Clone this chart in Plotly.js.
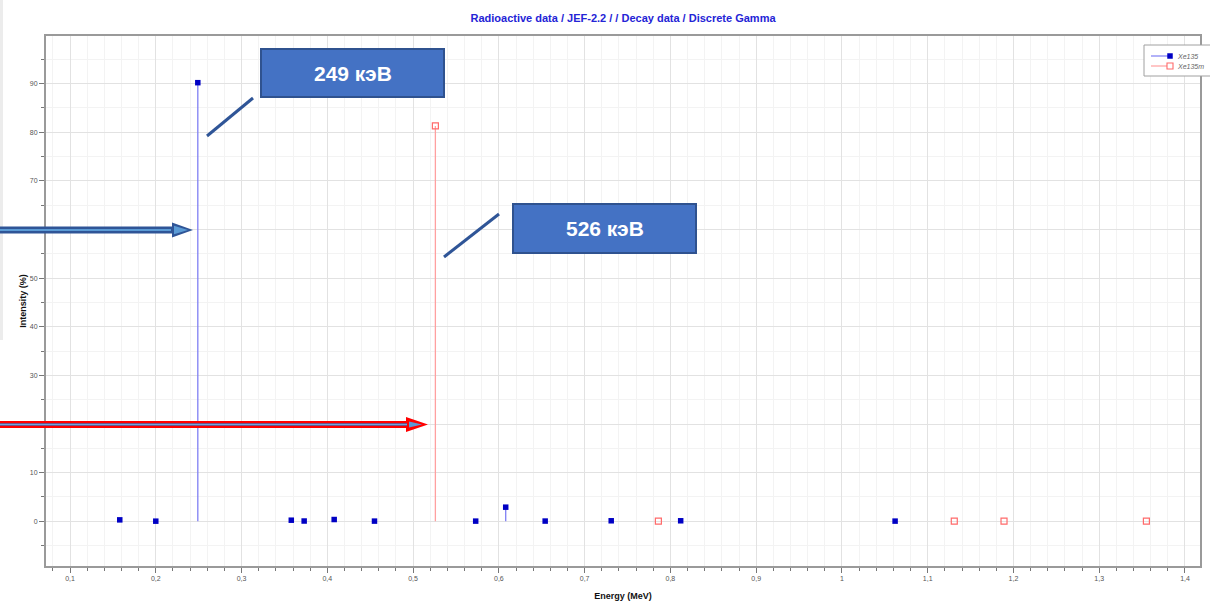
<!DOCTYPE html>
<html>
<head>
<meta charset="utf-8">
<script src="https://cdn.plot.ly/plotly-3.0.1.min.js"></script>
<style>
  html, body { margin: 0; padding: 0; background: #ffffff; }
  #chart { width: 1210px; height: 602px; }
</style>
</head>
<body>
<div id="chart"></div>
<script>
// Discrete gamma lines (energy in MeV, intensity in %)
const xe135Energy    = [0.158, 0.200, 0.249, 0.358, 0.373, 0.408, 0.455, 0.573, 0.608, 0.654, 0.731, 0.812, 1.062];
const xe135Intensity = [0.29, 0.02, 90.2, 0.22, 0.05, 0.36, 0.03, 0.03, 2.9, 0.04, 0.10, 0.10, 0.03];

const xe135mEnergy    = [0.526, 0.786, 1.131, 1.189, 1.355];
const xe135mIntensity = [81.3, 0.02, 0.02, 0.02, 0.02];

const seriesNames = ["Xe135", "Xe135m"];
const peakLabels  = ["249 кэВ", "526 кэВ"];

// Series styles
const styles = [
  { stem: "#7f7ff4", mark: "#0000c4", symbol: "square", size: 5.5 },
  { stem: "#ffa0a0", mark: "#ff6a6a", symbol: "square-open", size: 6 }
];

// Plot-area geometry in page pixels
const L = 46, T = 36, W = 1154, H = 530;
const px = x => (x - L) / W;          // page x -> paper x
const py = y => (T + H - y) / H;      // page y -> paper y
const pathOf = pts => "M" + pts.map(p => px(p[0]).toFixed(5) + "," + py(p[1]).toFixed(5)).join(" L") + " Z";

// Each line is a vertical stem from 0 up to its intensity, with a marker at the top
function stemTrace(name, energy, intensity, st) {
  const xs = [], ys = [], sizes = [];
  energy.forEach((e, i) => {
    xs.push(e, e, null);
    ys.push(0, intensity[i], null);
    sizes.push(0, st.size, 0);   // no marker at the stem base
  });
  return {
    type: "scatter", mode: "lines+markers", name: name,
    x: xs, y: ys, connectgaps: false, cliponaxis: false,
    line: { color: st.stem, width: 1.3 },
    marker: { symbol: st.symbol, color: st.mark, size: sizes, opacity: 1,
              line: { width: st.symbol === "square-open" ? 1.2 : 0 } }
  };
}

const traces = [
  stemTrace(seriesNames[0], xe135Energy, xe135Intensity, styles[0]),
  stemTrace(seriesNames[1], xe135mEnergy, xe135mIntensity, styles[1])
];

// Callout boxes, leader lines and pointer arrows
const boxFill = "#4472c4", boxEdge = "#2f528f", leader = "#2f5597";
const shapes = [
  // thin grey strip on the far left
  { type: "rect", xref: "paper", yref: "paper", x0: px(0), x1: px(3), y0: py(340), y1: py(0),
    fillcolor: "#ececec", line: { width: 0 }, layer: "below" },

  { type: "rect", xref: "paper", yref: "paper", x0: px(261), x1: px(444), y0: py(97), y1: py(49),
    fillcolor: boxFill, line: { color: boxEdge, width: 2 } },
  { type: "rect", xref: "paper", yref: "paper", x0: px(513), x1: px(696), y0: py(253), y1: py(204),
    fillcolor: boxFill, line: { color: boxEdge, width: 2 } },

  { type: "line", xref: "paper", yref: "paper", x0: px(207), y0: py(136), x1: px(253), y1: py(98),
    line: { color: leader, width: 3 } },
  { type: "line", xref: "paper", yref: "paper", x0: px(444), y0: py(257), x1: px(499), y1: py(214),
    line: { color: leader, width: 3 } },

  // blue arrow
  { type: "path", xref: "paper", yref: "paper", fillcolor: "#2f5597", line: { width: 0 },
    path: pathOf([[0, 226.5], [172, 226.5], [172, 222.5], [193, 230], [172, 237.5], [172, 233.5], [0, 233.5]]) },
  { type: "path", xref: "paper", yref: "paper", fillcolor: "#5b9bd5", line: { width: 0 },
    path: pathOf([[0, 229], [171, 229], [171, 231], [0, 231]]) },
  { type: "path", xref: "paper", yref: "paper", fillcolor: "#5b9bd5", line: { width: 0 },
    path: pathOf([[174, 225.8], [188, 230], [174, 234.2]]) },

  // red arrow
  { type: "path", xref: "paper", yref: "paper", fillcolor: "#ff0000", line: { width: 0 },
    path: pathOf([[0, 421], [406, 421], [406, 417], [428, 424.5], [406, 432], [406, 428], [0, 428]]) },
  { type: "path", xref: "paper", yref: "paper", fillcolor: "#3f6fb8", line: { width: 0 },
    path: pathOf([[0, 423.2], [407, 423.2], [407, 425.8], [0, 425.8]]) },
  { type: "path", xref: "paper", yref: "paper", fillcolor: "#6fa4dc", line: { width: 0 },
    path: pathOf([[0, 424], [407, 424], [407, 425], [0, 425]]) },
  { type: "path", xref: "paper", yref: "paper", fillcolor: "#5b9bd5", line: { width: 0 },
    path: pathOf([[409, 421.5], [422, 424.5], [409, 427.5]]) },

  // legend frame
  { type: "rect", xref: "paper", yref: "paper", x0: px(1144), x1: px(1214), y0: py(76), y1: py(45),
    fillcolor: "#ffffff", line: { color: "#a0a0a0", width: 1 } }
];

const annotations = [
  { xref: "paper", yref: "paper", x: px(352.5), y: py(73), text: "<b>" + peakLabels[0] + "</b>",
    showarrow: false, xanchor: "center", yanchor: "middle",
    font: { family: "Liberation Sans, Arial, sans-serif", size: 21, color: "#ffffff" } },
  { xref: "paper", yref: "paper", x: px(604.5), y: py(228.5), text: "<b>" + peakLabels[1] + "</b>",
    showarrow: false, xanchor: "center", yanchor: "middle",
    font: { family: "Liberation Sans, Arial, sans-serif", size: 21, color: "#ffffff" } }
];

// Compact legend: sample line, marker and name for each series
seriesNames.forEach((name, i) => {
  const rowY = 56 + i * 10;
  const st = styles[i];
  shapes.push({ type: "line", xref: "paper", yref: "paper",
    x0: px(1151), x1: px(1170), y0: py(rowY), y1: py(rowY),
    line: { color: st.stem, width: 1.2 } });
  const h = st.size / 2;
  shapes.push({ type: "rect", xref: "paper", yref: "paper",
    x0: px(1170 - h), x1: px(1170 + h), y0: py(rowY + h), y1: py(rowY - h),
    fillcolor: st.symbol === "square" ? st.mark : "#ffffff",
    line: { color: st.mark, width: st.symbol === "square" ? 0 : 1.1 } });
  annotations.push({ xref: "paper", yref: "paper", x: px(1175), y: py(rowY),
    text: "<i>" + name + "</i>", showarrow: false, xanchor: "left", yanchor: "middle",
    font: { family: "Liberation Sans, Arial, sans-serif", size: 7, color: "#666" } });
});

const layout = {
  width: 1210, height: 602,
  margin: { l: L, r: 1210 - L - W, t: T, b: 602 - T - H, pad: 0 },
  paper_bgcolor: "#ffffff", plot_bgcolor: "#ffffff",
  separators: ",.",
  font: { family: "Liberation Sans, Arial, sans-serif", color: "#444" },
  title: {
    text: "<b>Radioactive data / JEF-2.2 / / Decay data / Discrete Gamma</b>",
    font: { family: "Liberation Sans, Arial, sans-serif", size: 11, color: "#2424d6" },
    x: 0.5, xref: "paper", y: 1 - 18 / 602, yanchor: "middle"
  },
  xaxis: {
    range: [0.072, 1.4175], dtick: 0.1, tick0: 0,
    showgrid: true, gridcolor: "#e2e2e2", gridwidth: 1,
    minor: { dtick: 0.02, showgrid: true, gridcolor: "#f3f3f3", ticks: "outside", ticklen: 3, tickcolor: "#777" },
    zeroline: false, showline: true, linecolor: "#9a9a9a", linewidth: 2, mirror: true,
    ticks: "outside", ticklen: 5, tickcolor: "#777",
    tickfont: { size: 7, color: "#555" },
    title: { text: "<b>Energy (MeV)</b>", font: { size: 9, color: "#111" }, standoff: 11 }
  },
  yaxis: {
    range: [-9.2, 99.8], dtick: 10, tick0: 0,
    showgrid: true, gridcolor: "#e2e2e2", gridwidth: 1,
    minor: { dtick: 5, showgrid: true, gridcolor: "#f3f3f3", ticks: "outside", ticklen: 3, tickcolor: "#777" },
    zeroline: false, showline: true, linecolor: "#9a9a9a", linewidth: 2, mirror: true,
    ticks: "outside", ticklen: 5, tickcolor: "#777",
    tickfont: { size: 7, color: "#555" },
    title: { text: "<b>Intensity (%)</b>", font: { size: 9, color: "#111" }, standoff: 2 }
  },
  showlegend: false,
  shapes: shapes,
  annotations: annotations
};

Plotly.newPlot("chart", traces, layout, { displayModeBar: false, staticPlot: true });
</script>
</body>
</html>
